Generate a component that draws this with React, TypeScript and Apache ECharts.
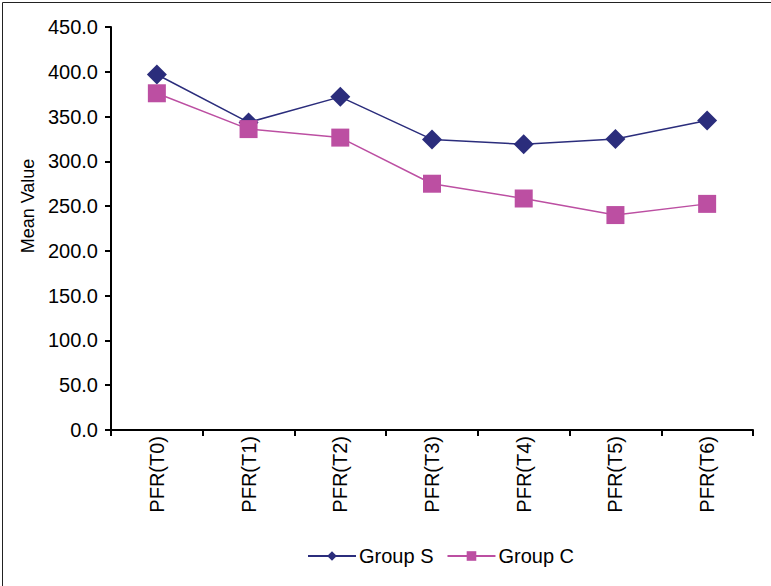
import React, { useEffect, useRef } from "react";
import * as echarts from "echarts";

const categories = ["PFR(T0)", "PFR(T1)", "PFR(T2)", "PFR(T3)", "PFR(T4)", "PFR(T5)", "PFR(T6)"];
const groupS = [397.0, 343.5, 372.0, 324.5, 319.0, 325.0, 345.5];
const groupC = [376.0, 336.0, 326.5, 275.0, 258.5, 240.0, 252.5];
const yTicks = { min: 0, max: 450, interval: 50 };

const FONT = "Liberation Sans, Arial, sans-serif";

export default function App() {
  const ref = useRef<HTMLDivElement>(null);
  useEffect(() => {
    if (!ref.current) return;
    const chart = echarts.init(ref.current, null, { renderer: "svg" });
    chart.setOption({
      animation: false,
      backgroundColor: "#ffffff",
      textStyle: { fontFamily: FONT },
      grid: { left: 111, right: 18, top: 27, bottom: 156 },
      graphic: [
        {
          type: "rect",
          left: 0,
          top: 0,
          shape: { x: 0.5, y: 0.5, width: 770, height: 585 },
          style: { fill: "none", stroke: "#222", lineWidth: 1 },
          silent: true,
        },
        {
          type: "text",
          x: 28,
          y: 206,
          rotation: Math.PI / 2,
          style: {
            text: "Mean Value",
            fontFamily: FONT,
            fontSize: 18,
            fill: "#000",
            align: "center",
            verticalAlign: "middle",
          },
        },
      ],
      legend: {
        top: 546,
        left: 307,
        padding: 0,
        itemWidth: 48,
        itemHeight: 12,
        itemGap: 13,
        textStyle: { fontFamily: FONT, fontSize: 20, color: "#000", padding: [0, 0, 0, -2] },
        data: ["Group S", "Group C"],
      },
      xAxis: {
        type: "category",
        data: categories,
        boundaryGap: true,
        axisLine: { lineStyle: { color: "#000", width: 2 } },
        axisTick: { show: true, length: 6, lineStyle: { color: "#000", width: 2 } },
        axisLabel: {
          rotate: 90,
          margin: 6,
          fontFamily: FONT,
          fontSize: 20,
          color: "#000",
        },
        splitLine: { show: false },
      },
      yAxis: {
        type: "value",
        min: yTicks.min,
        max: yTicks.max,
        interval: yTicks.interval,
        axisLine: { show: true, lineStyle: { color: "#000", width: 2 } },
        axisTick: { show: true, length: 6, lineStyle: { color: "#000", width: 2 } },
        axisLabel: {
          formatter: (v: number) => v.toFixed(1),
          fontFamily: FONT,
          fontSize: 20,
          color: "#000",
          margin: 13,
        },
        splitLine: { show: false },
      },
      series: [
        {
          name: "Group S",
          type: "line",
          data: groupS,
          symbol: "diamond",
          symbolSize: 20,
          color: "#2B2D7C",
          lineStyle: { color: "#2B2D7C", width: 1.5 },
          itemStyle: { color: "#2B2D7C" },
        },
        {
          name: "Group C",
          type: "line",
          data: groupC,
          symbol: "rect",
          symbolSize: 18,
          color: "#BC4FA2",
          lineStyle: { color: "#BC4FA2", width: 1.5 },
          itemStyle: { color: "#BC4FA2" },
        },
      ],
    });
    return () => chart.dispose();
  }, []);
  return (
    <div
      ref={ref}
      style={{ position: "absolute", left: 0, top: 0, width: 771, height: 586 }}
    />
  );
}
